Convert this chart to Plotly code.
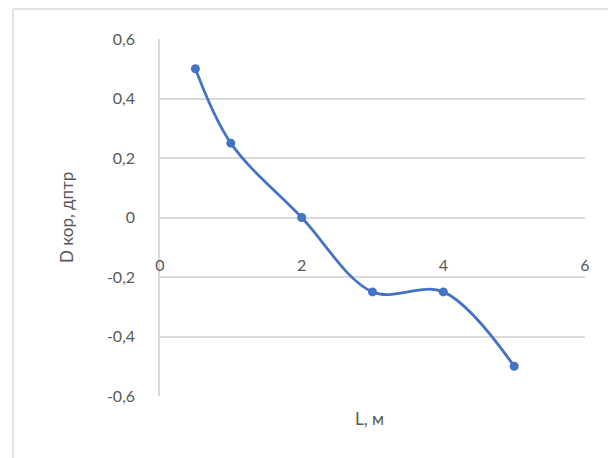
import plotly.graph_objects as go

# Data
L_m = [0.5, 1, 2, 3, 4, 5]
D_kor = [0.5, 0.25, 0.0, -0.25, -0.25, -0.5]

y_tickvals = [-0.6, -0.4, -0.2, 0, 0.2, 0.4, 0.6]
y_ticktext = ["-0,6", "-0,4", "-0,2", "0", "0,2", "0,4", "0,6"]
x_tickvals = [0, 2, 4, 6]
x_ticktext = ["0", "2", "4", "6"]

x_title = "L, м"
y_title = "D кор, дптр"

W, H = 608, 458
ML, MR, MT, MB = 160, 23, 39, 62
pw = W - ML - MR
ph = H - MT - MB

def px2paper_x(px):
    return (px - ML) / pw

def px2paper_y(py):
    return (H - MB - py) / ph

TEXT = "#595959"
GRID = "#d9d9d9"
FONT = "Lato, Liberation Sans, sans-serif"

fig = go.Figure()
fig.add_trace(go.Scatter(
    x=L_m, y=D_kor,
    mode="lines+markers",
    line=dict(color="#4472C4", width=2.75, shape="spline", smoothing=1.0),
    marker=dict(color="#4472C4", size=9),
    showlegend=False,
))

fig.update_layout(
    width=W, height=H,
    margin=dict(l=ML, r=MR, t=MT, b=MB, pad=0),
    paper_bgcolor="white",
    plot_bgcolor="white",
    font=dict(family=FONT, color=TEXT, size=16),
    xaxis=dict(
        range=[0, 6],
        tickvals=x_tickvals, ticktext=x_ticktext,
        showgrid=False, zeroline=False,
        showline=True, linecolor=GRID, linewidth=1.5,
        anchor="free", position=0.5,
        ticks="", ticklabelstandoff=34,
        tickfont=dict(size=16, color=TEXT),
        layer="below traces",
    ),
    yaxis=dict(
        range=[-0.6, 0.6],
        tickvals=y_tickvals, ticktext=y_ticktext,
        showgrid=True, gridcolor=GRID, gridwidth=1.5,
        zeroline=False,
        showline=True, linecolor=GRID, linewidth=1.5,
        ticks="", ticklabelstandoff=20,
        tickfont=dict(size=16, color=TEXT),
        layer="below traces",
    ),
    annotations=[
        dict(text=x_title, xref="paper", yref="paper",
             x=px2paper_x(369), y=px2paper_y(418),
             showarrow=False, xanchor="center", yanchor="middle",
             font=dict(size=17, color=TEXT)),
        dict(text=y_title, xref="paper", yref="paper",
             x=px2paper_x(66), y=px2paper_y(218),
             showarrow=False, xanchor="center", yanchor="middle",
             textangle=-90, font=dict(size=17, color=TEXT)),
    ],
    shapes=[
        dict(type="line", xref="paper", yref="paper",
             x0=px2paper_x(13), x1=px2paper_x(13),
             y0=px2paper_y(9), y1=px2paper_y(470),
             line=dict(color=GRID, width=1.5)),
        dict(type="line", xref="paper", yref="paper",
             x0=px2paper_x(13), x1=px2paper_x(620),
             y0=px2paper_y(9), y1=px2paper_y(9),
             line=dict(color=GRID, width=1.5)),
    ],
)

fig.write_html("out.html")
